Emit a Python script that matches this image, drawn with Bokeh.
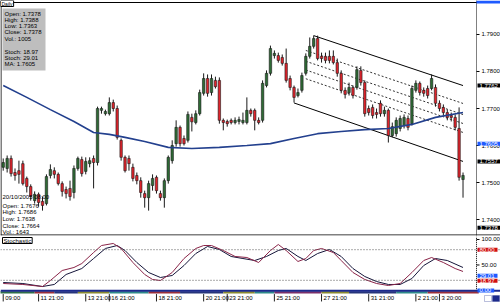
from bokeh.plotting import figure
from bokeh.layouts import column
from bokeh.models import (Range1d, Span, Label, BoxAnnotation, ColumnDataSource)
from bokeh.embed import file_html
from bokeh.resources import INLINE
from bokeh.core.properties import value

FONT = "Liberation Sans"

# ---------------- data (4h candles, GBP/USD) ----------------
opens = [
    1.7541, 1.7538, 1.7565, 1.7527, 1.7532, 1.7551, 1.7511, 1.7489, 1.7451, 1.7468,
    1.7449, 1.7443, 1.7519, 1.7532, 1.7522, 1.7497, 1.7481, 1.7484, 1.7473, 1.7538,
    1.7562, 1.7530, 1.7551, 1.7565, 1.7554, 1.7695, 1.7686, 1.7686, 1.7716, 1.7700,
    1.7614, 1.7568, 1.7565, 1.7541, 1.7519, 1.7505, 1.7470, 1.7459, 1.7492, 1.7514,
    1.7470, 1.7459, 1.7505, 1.7559, 1.7605, 1.7649, 1.7619, 1.7614, 1.7676, 1.7662,
    1.7686, 1.7741, 1.7781, 1.7743, 1.7776, 1.7776, 1.7668, 1.7665, 1.7668, 1.7662,
    1.7665, 1.7662, 1.7662, 1.7695, 1.7695, 1.7668, 1.7668, 1.7762, 1.7795, 1.7843,
    1.7843, 1.7838, 1.7822, 1.7781, 1.7757, 1.7735, 1.7749, 1.7795, 1.7841, 1.7868,
    1.7889, 1.7841, 1.7841, 1.7841, 1.7841, 1.7824, 1.7795, 1.7749, 1.7743, 1.7757,
    1.7757, 1.7803, 1.7770, 1.7700, 1.7703, 1.7689, 1.7714, 1.7686, 1.7695, 1.7627,
    1.7632, 1.7646, 1.7654, 1.7673, 1.7659, 1.7749, 1.7768, 1.7749, 1.7754, 1.7754,
    1.7757, 1.7714, 1.7703, 1.7689, 1.7681, 1.7676, 1.7646, 1.7508]
closes = [
    1.7554, 1.7565, 1.7524, 1.7519, 1.7522, 1.7497, 1.7489, 1.7462, 1.7468, 1.7446,
    1.7438, 1.7516, 1.7535, 1.7522, 1.7497, 1.7476, 1.7470, 1.7462, 1.7538, 1.7565,
    1.7524, 1.7557, 1.7559, 1.7554, 1.7700, 1.7700, 1.7692, 1.7716, 1.7700, 1.7622,
    1.7568, 1.7532, 1.7551, 1.7511, 1.7505, 1.7473, 1.7459, 1.7497, 1.7511, 1.7478,
    1.7459, 1.7505, 1.7568, 1.7600, 1.7649, 1.7605, 1.7605, 1.7684, 1.7664, 1.7686,
    1.7743, 1.7781, 1.7741, 1.7781, 1.7759, 1.7668, 1.7662, 1.7659, 1.7662, 1.7668,
    1.7670, 1.7668, 1.7695, 1.7686, 1.7668, 1.7662, 1.7768, 1.7795, 1.7862, 1.7849,
    1.7830, 1.7822, 1.7776, 1.7757, 1.7730, 1.7743, 1.7789, 1.7841, 1.7868, 1.7889,
    1.7835, 1.7835, 1.7830, 1.7830, 1.7824, 1.7795, 1.7749, 1.7738, 1.7757, 1.7735,
    1.7805, 1.7770, 1.7686, 1.7689, 1.7681, 1.7684, 1.7686, 1.7695, 1.7627, 1.7651,
    1.7668, 1.7673, 1.7676, 1.7649, 1.7754, 1.7768, 1.7743, 1.7741, 1.7735, 1.7781,
    1.7714, 1.7700, 1.7689, 1.7676, 1.7676, 1.7649, 1.7514, 1.7519]
highs = [
    1.7565, 1.7573, 1.7573, 1.7538, 1.7559, 1.7559, 1.7516, 1.7495, 1.7476, 1.7473,
    1.7462, 1.7522, 1.7549, 1.7541, 1.7527, 1.7503, 1.7489, 1.7505, 1.7546, 1.7570,
    1.7570, 1.7568, 1.7568, 1.7573, 1.7705, 1.7705, 1.7697, 1.7730, 1.7724, 1.7708,
    1.7619, 1.7573, 1.7573, 1.7551, 1.7527, 1.7514, 1.7478, 1.7505, 1.7522, 1.7519,
    1.7478, 1.7511, 1.7573, 1.7614, 1.7668, 1.7654, 1.7627, 1.7692, 1.7686, 1.7695,
    1.7751, 1.7795, 1.7792, 1.7792, 1.7786, 1.7784, 1.7673, 1.7670, 1.7673, 1.7676,
    1.7678, 1.7689, 1.7730, 1.7700, 1.7700, 1.7676, 1.7776, 1.7803, 1.7870, 1.7857,
    1.7851, 1.7846, 1.7862, 1.7789, 1.7762, 1.7754, 1.7797, 1.7849, 1.7892, 1.7897,
    1.7897, 1.7851, 1.7851, 1.7857, 1.7857, 1.7835, 1.7803, 1.7757, 1.7770, 1.7762,
    1.7814, 1.7814, 1.7776, 1.7708, 1.7711, 1.7700, 1.7722, 1.7705, 1.7700, 1.7662,
    1.7676, 1.7681, 1.7684, 1.7681, 1.7762, 1.7776, 1.7773, 1.7757, 1.7762, 1.7792,
    1.7765, 1.7722, 1.7711, 1.7697, 1.7689, 1.7684, 1.7703, 1.7527]
lows = [
    1.7532, 1.7527, 1.7516, 1.7505, 1.7497, 1.7492, 1.7473, 1.7451, 1.7443, 1.7435,
    1.7424, 1.7438, 1.7511, 1.7511, 1.7492, 1.7462, 1.7457, 1.7451, 1.7457, 1.7532,
    1.7516, 1.7522, 1.7541, 1.7484, 1.7546, 1.7686, 1.7681, 1.7681, 1.7692, 1.7616,
    1.7559, 1.7527, 1.7532, 1.7503, 1.7495, 1.7459, 1.7432, 1.7424, 1.7478, 1.7470,
    1.7451, 1.7432, 1.7497, 1.7551, 1.7597, 1.7597, 1.7600, 1.7608, 1.7638, 1.7657,
    1.7681, 1.7735, 1.7732, 1.7735, 1.7754, 1.7659, 1.7641, 1.7651, 1.7657, 1.7657,
    1.7657, 1.7657, 1.7657, 1.7678, 1.7641, 1.7657, 1.7662, 1.7757, 1.7789, 1.7835,
    1.7824, 1.7816, 1.7770, 1.7749, 1.7716, 1.7730, 1.7743, 1.7789, 1.7835, 1.7862,
    1.7830, 1.7824, 1.7822, 1.7822, 1.7819, 1.7786, 1.7741, 1.7727, 1.7735, 1.7727,
    1.7751, 1.7762, 1.7678, 1.7681, 1.7673, 1.7673, 1.7678, 1.7678, 1.7608, 1.7622,
    1.7624, 1.7638, 1.7646, 1.7641, 1.7654, 1.7743, 1.7735, 1.7732, 1.7727, 1.7749,
    1.7705, 1.7692, 1.7681, 1.7668, 1.7665, 1.7641, 1.7505, 1.7459]

# moving average (read at selected bars)
ma_idx = [0, 6, 12, 18, 23, 27, 31, 36, 42, 48, 55, 62, 68, 74, 80, 86, 92, 98, 104, 110, 117]
ma_val = [1.7762, 1.7730, 1.7697, 1.7665, 1.7635, 1.7630, 1.7622, 1.7611, 1.7595, 1.7592,
          1.7595, 1.7600, 1.7605, 1.7619, 1.7632, 1.7638, 1.7643, 1.7646, 1.7657, 1.7676, 1.7689]

# regression channel end points (bar index, price)
chan_upper_idx = [79, 117]
chan_upper_val = [1.7897, 1.7762]
chan_lower_idx = [74, 117]
chan_lower_val = [1.7715, 1.7557]
fib_start = 77
fib_levels = [0.236, 0.382, 0.5, 0.618]

# stochastic
k_idx = [0, 5, 10, 12, 15, 18, 20, 23, 25, 28, 30, 33, 36, 38, 40, 43, 46, 49, 51, 53,
         56, 59, 62, 65, 68, 70, 72, 75, 77, 79, 81, 84, 86, 89, 92, 95, 98, 101, 104, 107,
         109, 112, 115, 117]
k_val = [13.7, 11.8, 7.8, 19.6, 39.2, 45.1, 52.9, 74.5, 88.2, 92.2, 82.4, 54.9, 31.4, 21.6,
         19.6, 35.3, 62.7, 82.4, 88.2, 88.2, 78.4, 66.7, 64.7, 54.9, 78.4, 90.2, 78.4, 56.9,
         62.7, 78.4, 82.4, 74.5, 58.8, 35.3, 21.6, 13.7, 9.8, 13.7, 35.3, 58.8, 64.7, 54.9,
         43.1, 37.3]
d_idx = [0, 5, 10, 13, 16, 20, 23, 26, 29, 31, 34, 37, 40, 43, 46, 49, 52, 55, 58, 61,
         64, 67, 70, 72, 75, 77, 80, 83, 86, 89, 92, 95, 98, 101, 104, 107, 110, 113, 117]
d_val = [15.7, 13.7, 7.8, 11.8, 31.4, 43.1, 62.7, 82.4, 88.2, 78.4, 54.9, 35.3, 25.5, 29.4,
         49.0, 72.5, 86.3, 80.4, 66.7, 62.7, 58.8, 66.7, 78.4, 82.4, 66.7, 58.8, 72.5, 80.4,
         66.7, 43.1, 27.5, 17.6, 11.8, 11.8, 23.5, 49.0, 62.7, 58.8, 45.1]

# time axis
tick_idx = [0, 9, 21, 27, 39, 51, 57, 69, 81, 93, 105, 111]
tick_labels = ["09:00", "11 21:00", "13 21:00", "16 21:00", "18 21:00", "20 21:00",
               "23 21:00", "25 21:00", "27 21:00", "31 21:00", "2 21:00", "3 20:00"]
price_ticks = [1.74, 1.75, 1.76, 1.77, 1.78, 1.79]
stoch_ticks = [50, 100]

# session colour strip under the stochastic panel
band_edges = [-1, 8, 13, 19, 27, 37, 45, 56, 64, 69, 81, 88, 100, 108, 121]
band_colors = ["#2F6E4A", "#9A2F3A", "#27357A", "#8A8A30", "#2E8A8A", "#9A2F3A", "#27357A",
               "#8A8A30", "#2E8A8A", "#7A2F6A", "#8A8A30", "#27357A", "#2E8A8A", "#9A2F3A"]

info_lines = ["Open: 1.7378", "High: 1.7388", "Low: 1.7363", "Close: 1.7378", "Vol.: 1005",
              "Stoch: 18.97", "Stoch: 29.01", "MA: 1.7605"]
hover_lines = ["20/10/2005 08:00", "Open: 1.7676", "High: 1.7686", "Low: 1.7638",
               "Close: 1.7664", "Vol.: 1643"]
price_marks = [(1.7762, "#000000"), (1.7605, "#1E5AFF"), (1.7557, "#000000"), (1.7378, "#000000")]
stoch_marks = [(80.0, "#D01010"), (29.01, "#1E5AFF"), (18.97, "#D01010"), (0.0, "#1E5AFF")]

# ---------------- geometry ----------------
PX_PER_BAR = 3.93
X_START = -0.69
X_END = X_START + 500 / PX_PER_BAR          # frame spans the full 500 px
SCALE_X = X_START + 476 / PX_PER_BAR         # where the price scale begins
TICK_LEN = 3 / PX_PER_BAR
GREEN = "#2E6B35"
RED = "#E0242C"
WICK = "#1A1A1A"
NAVY = "#1C2A8C"


def txt(size="6px"):
    return dict(text_font=value(FONT), text_font_size=size, text_color="black")


# ---------------- main price panel ----------------
n = min(len(opens), len(closes), len(highs), len(lows))
src = ColumnDataSource(dict(
    x=list(range(n)),
    top=[max(opens[i], closes[i]) for i in range(n)],
    bottom=[min(opens[i], closes[i]) for i in range(n)],
    high=highs[:n], low=lows[:n],
    color=[GREEN if closes[i] >= opens[i] else RED for i in range(n)],
))

XR = Range1d(X_START, X_END)
Y_TOP = 1.799189      # canvas y = 0
Y_BOT = 1.735676      # canvas y = 235
p = figure(width=500, height=236, x_range=XR, y_range=Range1d(Y_BOT, Y_TOP),
           x_axis_location=None, y_axis_location=None, toolbar_location=None,
           output_backend="svg", min_border_left=0, min_border_right=0,
           min_border_top=0, min_border_bottom=1,
           background_fill_color="white", border_fill_color="white")
p.grid.visible = False
p.outline_line_color = None

PX_PER_PRICE = 235 / (Y_TOP - Y_BOT)


def price_at(cy):
    return Y_TOP - cy / PX_PER_PRICE


# panel frame lines
p.add_layout(Span(location=price_at(2), dimension="width", line_color="black", line_width=1))
p.add_layout(Span(location=price_at(234.5), dimension="width", line_color="black", line_width=1))
p.add_layout(Span(location=X_START + 0.5 / PX_PER_BAR, dimension="height",
                  line_color="black", line_width=1))

# price scale on the right
p.add_layout(Span(location=SCALE_X, dimension="height", line_color="black",
                  line_width=1, line_dash="1 1"))
p.segment(x0=[SCALE_X] * len(price_ticks), y0=price_ticks,
          x1=[SCALE_X + TICK_LEN] * len(price_ticks), y1=price_ticks,
          line_color="black", line_width=1)
p.text(x=[SCALE_X] * len(price_ticks), y=price_ticks,
       text=["%.4f" % t for t in price_ticks], x_offset=5,
       text_baseline="middle", text_align="left", **txt())

FB_MAIN = 235  # frame bottom (canvas px) of main panel


def main_y(cy):
    return FB_MAIN - cy


def screen_box(fig, fb, l, r, t, b, **kw):
    fig.add_layout(BoxAnnotation(left=l, right=r, top=fb - t, bottom=fb - b,
                                 left_units="screen", right_units="screen",
                                 top_units="screen", bottom_units="screen", **kw))


# info box
screen_box(p, FB_MAIN, 2, 45, 8, 70, fill_color="#BEBEBE", fill_alpha=1.0, line_color=None)
info_y = [13, 19.3, 25.6, 31.9, 38.2, 51, 57.3, 63.6]
for t, cy in zip(info_lines, info_y):
    p.add_layout(Label(x=4, y=main_y(cy), x_units="screen", y_units="screen", text=t,
                       text_font=FONT, text_font_size="6px", text_color="black",
                       text_baseline="middle", text_align="left"))


# regression channel
def lin(xs, ys, x):
    return ys[0] + (ys[1] - ys[0]) * (x - xs[0]) / (xs[1] - xs[0])


p.line(chan_upper_idx, chan_upper_val, line_color="black", line_width=1)
p.line(chan_lower_idx, chan_lower_val, line_color="black", line_width=1)
fib_end = chan_upper_idx[1]
for f in fib_levels:
    xs = [fib_start, fib_end]
    ys = [lin(chan_upper_idx, chan_upper_val, x)
          + f * (lin(chan_lower_idx, chan_lower_val, x) - lin(chan_upper_idx, chan_upper_val, x))
          for x in xs]
    p.line(xs, ys, line_color="#333333", line_width=1, line_dash="2 2")

# candles
p.segment(x0="x", y0="low", x1="x", y1="high", source=src, line_color=WICK, line_width=1)
p.vbar(x="x", top="top", bottom="bottom", width=0.62, source=src,
       fill_color="color", line_color=WICK, line_width=0.6)

# moving average
p.line(ma_idx, ma_val, line_color="#23408E", line_width=1.6)

# hover readout
hover_y = [196, 205, 211.7, 218.4, 225.1, 231.8]
for t, cy in zip(hover_lines, hover_y):
    p.add_layout(Label(x=2, y=main_y(cy), x_units="screen", y_units="screen", text=t,
                       text_font=FONT, text_font_size="6px", text_color="black",
                       text_baseline="middle", text_align="left"))

# price markers on right scale
for val, col in price_marks:
    p.add_layout(Label(x=477, y=val, x_units="screen", y_units="data", text="%.4f" % val,
                       text_font=FONT, text_font_size="6px", text_color="white",
                       text_baseline="middle", text_align="left",
                       background_fill_color=col, background_fill_alpha=1.0,
                       padding=dict(left=2, right=3, top=0, bottom=0)))
# the top tag of the scale is cut by the panel edge: only its colour shows
screen_box(p, FB_MAIN, 476, 500, 0, 3, fill_color="#1E5AFF", fill_alpha=1.0, line_color=None)

# period tag
p.add_layout(Label(x=0, y=main_y(0), x_units="screen", y_units="screen", text="Daily",
                   text_font=FONT, text_font_size="5px", text_color="black",
                   text_baseline="top", text_align="left",
                   background_fill_color="white", background_fill_alpha=1.0,
                   border_line_color="black", border_line_width=1,
                   padding=dict(left=1, right=1, top=0, bottom=0)))

# ---------------- stochastic panel ----------------
S_TOP = 105.88   # canvas y = 236
S_BOT = -23.53   # canvas y = 302
p2 = figure(width=500, height=66, x_range=XR, y_range=Range1d(S_BOT, S_TOP),
            x_axis_location=None, y_axis_location=None, toolbar_location=None,
            output_backend="svg", min_border_left=0, min_border_right=0,
            min_border_top=0, min_border_bottom=0,
            background_fill_color="white", border_fill_color="white")
p2.grid.visible = False
p2.outline_line_color = None

FB_STOCH = 302


def st_y(cy):
    return FB_STOCH - cy


for lvl in (80, 20):
    p2.add_layout(Span(location=lvl, dimension="width", line_color="#555555",
                       line_width=1, line_dash="1 2"))

p2.line(d_idx, d_val, line_color="#15153A", line_width=1)
p2.line(k_idx, k_val, line_color="#8A2448", line_width=1)

# stochastic scale on the right
p2.segment(x0=[SCALE_X], y0=[-0.6], x1=[SCALE_X], y1=[S_TOP], line_color="black",
           line_width=1, line_dash="1 1")
p2.segment(x0=[SCALE_X] * len(stoch_ticks), y0=stoch_ticks,
           x1=[SCALE_X + TICK_LEN] * len(stoch_ticks), y1=stoch_ticks,
           line_color="black", line_width=1)
p2.text(x=[SCALE_X] * len(stoch_ticks), y=stoch_ticks,
        text=["%.2f" % t for t in stoch_ticks], x_offset=5,
        text_baseline="middle", text_align="left", **txt())

# bottom strip + time labels
p2.quad(left=band_edges[:-1], right=band_edges[1:], bottom=-6.0, top=-1.6,
        fill_color=band_colors, line_color=None)
p2.add_layout(Span(location=-0.6, dimension="width", line_color=NAVY, line_width=2))
p2.segment(x0=tick_idx, y0=[-7.0] * len(tick_idx), x1=tick_idx, y1=[-21.5] * len(tick_idx),
           line_color="#222222", line_width=1)
p2.text(x=tick_idx, y=[-14.7] * len(tick_idx), text=tick_labels, x_offset=2,
        text_baseline="middle", text_align="left", **txt())

for val, col in stoch_marks:
    p2.add_layout(Label(x=477, y=val, x_units="screen", y_units="data", text="%.2f" % val,
                        text_font=FONT, text_font_size="6px", text_color="white",
                        text_baseline="middle", text_align="left",
                        background_fill_color=col, background_fill_alpha=1.0,
                        padding=dict(left=2, right=3, top=0, bottom=0)))

# small window buttons in the bottom-right corner
screen_box(p2, FB_STOCH, 484, 491, 295, 301, fill_color="white", fill_alpha=1.0,
           line_color=NAVY, line_width=1)
screen_box(p2, FB_STOCH, 492, 499, 295, 301, fill_color=NAVY, fill_alpha=1.0,
           line_color=NAVY, line_width=1)

p2.add_layout(Label(x=2, y=st_y(237), x_units="screen", y_units="screen", text="Stochastic",
                    text_font=FONT, text_font_size="6px", text_color="black",
                    text_baseline="top", text_align="left",
                    background_fill_color="white", background_fill_alpha=1.0,
                    border_line_color="black", border_line_width=1,
                    padding=dict(left=1, right=1, top=0, bottom=0)))

layout = column(p, p2, spacing=0)
open("out.html", "w").write(file_html(layout, INLINE))
